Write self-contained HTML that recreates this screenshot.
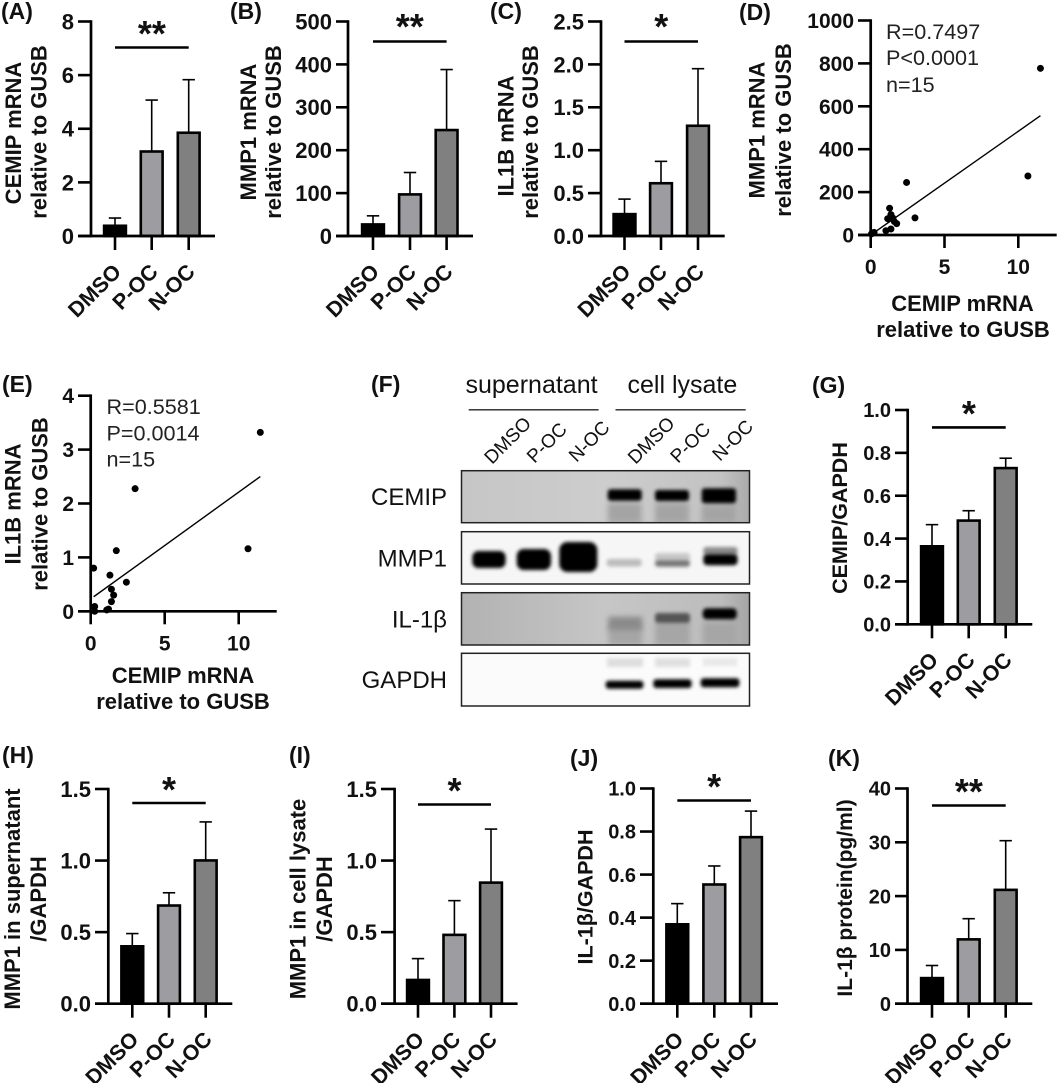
<!DOCTYPE html>
<html lang="en">
<head>
<meta charset="utf-8">
<title>CEMIP, MMP1 and IL-1β expression figure</title>
<style>
html,body{margin:0;padding:0;background:#fff}
svg{display:block}
text{font-family:"Liberation Sans",sans-serif;fill:#111}
.pl{font-weight:700;font-size:23px}
.yt{font-weight:700;font-size:22px;text-anchor:middle}
.r{font-size:21.6px;fill:#222}
.lane{font-size:19px;fill:#111}
.prot{font-size:24px;text-anchor:end;fill:#111}
</style>
</head>
<body>
<svg id="fig" xmlns="http://www.w3.org/2000/svg" width="1059" height="1083" viewBox="0 0 1059 1083">
<defs>
<filter id="bl1" x="-30%" y="-80%" width="160%" height="260%"><feGaussianBlur stdDeviation="1.8"/></filter>
<filter id="bl3" x="-30%" y="-60%" width="160%" height="220%"><feGaussianBlur stdDeviation="3"/></filter>
<linearGradient id="g1" x1="0" x2="1" y1="0" y2="0"><stop offset="0" stop-color="#c6c6c6"/><stop offset=".5" stop-color="#cdcdcd"/><stop offset=".9" stop-color="#c2c2c2"/><stop offset="1" stop-color="#aaa"/></linearGradient>
<linearGradient id="g3" x1="0" x2="1" y1="0" y2="0"><stop offset="0" stop-color="#b2b2b2"/><stop offset=".5" stop-color="#c6c6c6"/><stop offset=".9" stop-color="#bcbcbc"/><stop offset="1" stop-color="#a4a4a4"/></linearGradient>
<clipPath id="c1"><rect x="461.5" y="470.5" width="288" height="52"/></clipPath>
<clipPath id="c2"><rect x="461.5" y="531.5" width="288" height="52.5"/></clipPath>
<clipPath id="c3"><rect x="461.5" y="592.5" width="288" height="52.5"/></clipPath>
<clipPath id="c4"><rect x="461.5" y="653.5" width="288" height="52.5"/></clipPath>
</defs>

<!-- Panel letters -->
<text class="pl" x="1" y="19">(A)</text>
<text class="pl" x="230" y="19">(B)</text>
<text class="pl" x="490" y="19">(C)</text>
<text class="pl" x="739" y="20">(D)</text>
<text class="pl" x="2" y="392">(E)</text>
<text class="pl" x="371" y="392">(F)</text>
<text class="pl" x="812" y="393">(G)</text>
<text class="pl" x="2" y="763">(H)</text>
<text class="pl" x="289" y="763">(I)</text>
<text class="pl" x="570" y="766">(J)</text>
<text class="pl" x="828" y="766">(K)</text>

<!-- Axis titles -->
<text class="yt" transform="translate(21,133) rotate(-90)">CEMIP mRNA</text>
<text class="yt" transform="translate(46.5,132) rotate(-90)">relative to GUSB</text>
<text class="yt" transform="translate(256,132) rotate(-90)">MMP1 mRNA</text>
<text class="yt" transform="translate(281,132) rotate(-90)">relative to GUSB</text>
<text class="yt" transform="translate(513.5,136) rotate(-90)">IL1B mRNA</text>
<text class="yt" transform="translate(538,132) rotate(-90)">relative to GUSB</text>
<text class="yt" transform="translate(764.5,130) rotate(-90)">MMP1 mRNA</text>
<text class="yt" transform="translate(791,130) rotate(-90)">relative to GUSB</text>
<text class="yt" x="962.5" y="311">CEMIP mRNA</text>
<text class="yt" x="963" y="337">relative to GUSB</text>
<text class="yt" transform="translate(20.5,504) rotate(-90)">IL1B mRNA</text>
<text class="yt" transform="translate(47.5,504) rotate(-90)">relative to GUSB</text>
<text class="yt" x="183" y="683">CEMIP mRNA</text>
<text class="yt" x="183" y="709">relative to GUSB</text>
<text class="yt" style="font-size:21.5px" transform="translate(847,518) rotate(-90)">CEMIP/GAPDH</text>
<text class="yt" transform="translate(20,899) rotate(-90)">MMP1 in supernatant</text>
<text class="yt" transform="translate(46,899) rotate(-90)">/GAPDH</text>
<text class="yt" transform="translate(305.5,899) rotate(-90)">MMP1 in cell lysate</text>
<text class="yt" transform="translate(332,899) rotate(-90)">/GAPDH</text>
<text class="yt" style="font-size:21.5px" transform="translate(592.5,897) rotate(-90)">IL-1β/GAPDH</text>
<text class="yt" style="font-size:21px" transform="translate(852,898) rotate(-90)">IL-1β protein(pg/ml)</text>

<!-- Correlation statistics -->
<text class="r" x="886" y="39">R=0.7497</text>
<text class="r" x="886" y="65">P&lt;0.0001</text>
<text class="r" x="886" y="92">n=15</text>
<text class="r" x="106.5" y="414">R=0.5581</text>
<text class="r" x="106.5" y="440.5">P=0.0014</text>
<text class="r" x="106.5" y="466.5">n=15</text>

<!-- Panel F western blot -->
<g>
<text x="465.5" y="393" style="font-size:25px">supernatant</text>
<text x="627.5" y="393" style="font-size:25px">cell lysate</text>
<line x1="468.7" x2="598.6" y1="409.8" y2="409.8" stroke="#222" stroke-width="1.3"/>
<line x1="615.5" x2="745.7" y1="409.8" y2="409.8" stroke="#222" stroke-width="1.3"/>
<text class="lane" transform="translate(492,465) rotate(-45)">DMSO</text>
<text class="lane" transform="translate(534.5,464) rotate(-45)">P-OC</text>
<text class="lane" transform="translate(576.5,463) rotate(-45)">N-OC</text>
<text class="lane" transform="translate(635.5,465) rotate(-45)">DMSO</text>
<text class="lane" transform="translate(678,464) rotate(-45)">P-OC</text>
<text class="lane" transform="translate(720,462) rotate(-45)">N-OC</text>
<text class="prot" x="447" y="505">CEMIP</text>
<text class="prot" x="447" y="566.5">MMP1</text>
<text class="prot" x="447" y="627.5">IL-1β</text>
<text class="prot" x="447" y="688">GAPDH</text>

<g clip-path="url(#c1)">
<rect x="461" y="470" width="289" height="53" fill="url(#g1)"/>
<rect x="607.7" y="503" width="34" height="20" fill="#a4a4a4" filter="url(#bl3)"/>
<rect x="655" y="503" width="34" height="20" fill="#a4a4a4" filter="url(#bl3)"/>
<rect x="701.7" y="505" width="34.3" height="18" fill="#a4a4a4" filter="url(#bl3)"/>
<rect x="607.7" y="489.3" width="34" height="11.4" rx="3" fill="#000" filter="url(#bl1)"/>
<rect x="655" y="490" width="34" height="11" rx="3" fill="#000" filter="url(#bl1)"/>
<rect x="701.7" y="488.3" width="34.3" height="15" rx="3" fill="#000" filter="url(#bl1)"/>
</g>
<g clip-path="url(#c2)">
<rect x="461" y="531" width="289" height="53" fill="#f6f6f6"/>
<rect x="472.3" y="551" width="33.3" height="17" rx="6" fill="#000" filter="url(#bl1)"/>
<rect x="516.7" y="549" width="34.3" height="21" rx="7" fill="#000" filter="url(#bl1)"/>
<rect x="559.3" y="542" width="38" height="30" rx="8" fill="#000" filter="url(#bl1)"/>
<rect x="606.7" y="559" width="35" height="7.5" rx="3" fill="#bcbcbc" filter="url(#bl1)"/>
<rect x="655" y="553" width="35" height="8" rx="3" fill="#c8c8c8" filter="url(#bl1)"/>
<rect x="655" y="560" width="35" height="6.7" rx="3" fill="#777" filter="url(#bl1)"/>
<rect x="703.3" y="547" width="34.3" height="8" rx="3" fill="#8c8c8c" filter="url(#bl1)"/>
<rect x="703.3" y="554" width="34.3" height="11.3" rx="4" fill="#000" filter="url(#bl1)"/>
</g>
<g clip-path="url(#c3)">
<rect x="461" y="592" width="289" height="53" fill="url(#g3)"/>
<rect x="608.3" y="625" width="34" height="20" fill="#a6a6a6" filter="url(#bl3)"/>
<rect x="655" y="622" width="35" height="23" fill="#a6a6a6" filter="url(#bl3)"/>
<rect x="702.7" y="622" width="34" height="23" fill="#a6a6a6" filter="url(#bl3)"/>
<rect x="608.3" y="616.7" width="34" height="13.3" fill="#8a8a8a" filter="url(#bl3)"/>
<rect x="655" y="613" width="35" height="10" rx="3" fill="#555" filter="url(#bl1)"/>
<rect x="702.7" y="608.3" width="34" height="11" rx="4" fill="#000" filter="url(#bl1)"/>
</g>
<g clip-path="url(#c4)">
<rect x="461" y="653" width="289" height="53" fill="#fbfbfb"/>
<rect x="607" y="658" width="36" height="9" fill="#dedede" filter="url(#bl1)"/>
<rect x="655" y="658" width="35" height="9" fill="#e0e0e0" filter="url(#bl1)"/>
<rect x="703" y="658" width="34" height="8" fill="#e8e8e8" filter="url(#bl1)"/>
<rect x="605.7" y="680.7" width="37.7" height="8" rx="3" fill="#000" filter="url(#bl1)"/>
<rect x="653.3" y="679.3" width="38.3" height="8.7" rx="3" fill="#000" filter="url(#bl1)"/>
<rect x="700.7" y="678.3" width="38.7" height="9" rx="3" fill="#000" filter="url(#bl1)"/>
</g>
<rect x="461.5" y="470.7" width="288" height="52" fill="none" stroke="#222" stroke-width="1.5"/>
<rect x="461.5" y="531.7" width="288" height="52.3" fill="none" stroke="#222" stroke-width="1.5"/>
<rect x="461.5" y="592.7" width="288" height="52.3" fill="none" stroke="#222" stroke-width="1.5"/>
<rect x="461.5" y="653.3" width="288" height="52.7" fill="none" stroke="#222" stroke-width="1.5"/>
</g>

<g id="charts"></g>
</svg>

<script>
// ---- shared categories ----
const categories = ['DMSO', 'P-OC', 'N-OC'];
const barFills = ['#000000', '#9d9da1', '#808080'];

// ---- panel A ----
const aTicks = [0, 2, 4, 6, 8];
const aTickLabels = ['0', '2', '4', '6', '8'];
const aMeans = [0.43, 3.2, 3.9];
const aErrors = [0.67, 5.07, 5.83];
// ---- panel B ----
const bTicks = [0, 100, 200, 300, 400, 500];
const bTickLabels = ['0', '100', '200', '300', '400', '500'];
const bMeans = [30, 100, 250];
const bErrors = [47, 148, 388];
// ---- panel C ----
const cTicks = [0, 0.5, 1, 1.5, 2, 2.5];
const cTickLabels = ['0.0', '0.5', '1.0', '1.5', '2.0', '2.5'];
const cMeans = [0.27, 0.63, 1.3];
const cErrors = [0.43, 0.87, 1.95];
// ---- panel G ----
const gTicks = [0, 0.2, 0.4, 0.6, 0.8, 1];
const gTickLabels = ['0.0', '0.2', '0.4', '0.6', '0.8', '1.0'];
const gMeans = [0.37, 0.49, 0.735];
const gErrors = [0.465, 0.53, 0.775];
// ---- panel H ----
const hTicks = [0, 0.5, 1, 1.5];
const hTickLabels = ['0.0', '0.5', '1.0', '1.5'];
const hMeans = [0.41, 0.695, 1.01];
const hErrors = [0.49, 0.775, 1.27];
// ---- panel I ----
const iTicks = [0, 0.5, 1, 1.5];
const iTickLabels = ['0.0', '0.5', '1.0', '1.5'];
const iMeans = [0.175, 0.49, 0.855];
const iErrors = [0.315, 0.72, 1.22];
// ---- panel J ----
const jTicks = [0, 0.2, 0.4, 0.6, 0.8, 1];
const jTickLabels = ['0.0', '0.2', '0.4', '0.6', '0.8', '1.0'];
const jMeans = [0.375, 0.56, 0.78];
const jErrors = [0.465, 0.64, 0.895];
// ---- panel K ----
const kTicks = [0, 10, 20, 30, 40];
const kTickLabels = ['0', '10', '20', '30', '40'];
const kMeans = [5, 12.2, 21.4];
const kErrors = [7.1, 15.8, 30.3];

// ---- panel D scatter ----
const dXTicks = [0, 5, 10];
const dYTicks = [0, 200, 400, 600, 800, 1000];
const dXValues = [11.5, 10.65, 2.43, 3.0, 1.28, 1.37, 1.15, 1.5, 1.6, 1.76, 1.37, 1.03, 0.23, 0.05, 0.1];
const dYValues = [777, 275, 245, 80, 125, 95, 76, 79, 63, 53, 28, 20, 12, 5, 8];
const dFitX = [0.1, 11.5];
const dFitY = [5, 556];

// ---- panel E scatter ----
const eXTicks = [0, 5, 10];
const eYTicks = [0, 1, 2, 3, 4];
const eXValues = [11.46, 10.63, 3.0, 1.73, 0.2, 1.3, 2.41, 1.4, 1.55, 1.4, 1.08, 1.2, 0.27, 0.18, 0.27];
const eYValues = [3.32, 1.16, 2.275, 1.125, 0.8, 0.67, 0.54, 0.41, 0.3, 0.18, 0.025, 0.04, 0.09, 0.04, 0];
const eFitX = [0.2, 11.46];
const eFitY = [0.27, 2.5];

const NS = 'http://www.w3.org/2000/svg';
const root = document.getElementById('charts');

function mk(tag, attrs, parent, text) {
  const el = document.createElementNS(NS, tag);
  for (const k in attrs) el.setAttribute(k, attrs[k]);
  if (text !== undefined) el.textContent = text;
  parent.appendChild(el);
  return el;
}
function linear(d0, d1, r0, r1) {
  return v => r0 + (v - d0) * (r1 - r0) / (d1 - d0);
}
function line(parent, x1, y1, x2, y2, w, name) {
  const el = mk('line', {x1: x1, y1: y1, x2: x2, y2: y2, stroke: '#000', 'stroke-width': w}, parent);
  
  
  return el;
}

function barChart(id, L, ticks, tickLabels, means, errors) {
  const g = mk('g', {}, root);
  
  
  const y = linear(ticks[0], ticks[ticks.length - 1], L.y0, L.top);
  const fs = L.fs || 22;

  // bars and error bars
  categories.forEach((cat, i) => {
    const cx = L.cats[i];
    const top = y(means[i]) + 1.3;
    const et = y(errors[i]);
    line(g, cx, top, cx, et, 1.6, 'error-bar-' + id + '-' + cat.toLowerCase());
    line(g, cx - 6.2, et, cx + 6.2, et, 1.6, 'error-cap-' + id + '-' + cat.toLowerCase());
    const bar = mk('rect', {x: cx - 10.9, y: top, width: 21.8, height: L.y0 - top, fill: barFills[i], stroke: '#000', 'stroke-width': 2.6}, g);
    
    
  });

  // axes
  line(g, L.ax, L.top - 1.3, L.ax, L.y0 + 1.3, 2.7, 'y-axis-' + id);
  line(g, L.xs, L.y0, L.xe, L.y0, 2.7, 'x-axis-' + id);

  // y ticks
  ticks.forEach((t, i) => {
    line(g, L.xs, y(t), L.ax, y(t), 2.6, 'y-tick-' + id);
    const lab = mk('text', {x: L.xs - 4, y: y(t) + fs * 0.36, 'text-anchor': 'end', 'font-size': fs, 'font-weight': 700}, g, tickLabels[i]);
    
    
  });

  // x ticks and category labels
  categories.forEach((cat, i) => {
    const cx = L.cats[i];
    line(g, cx, L.y0, cx, L.y0 + 14, 2.6, 'x-tick-' + id);
    const lab = mk('text', {transform: 'translate(' + (cx + 7.5) + ',' + (L.y0 + 37) + ') rotate(-45)', 'text-anchor': 'end', 'font-size': 21.5, 'font-weight': 700}, g, cat);
    
    
  });

  // significance
  const sig = line(g, L.cats[0], L.sigY, L.cats[2], L.sigY, 2.6, 'significance-bar-' + id);
  sig.setAttribute('stroke-linecap', 'butt');
  const star = mk('text', {x: (L.cats[0] + L.cats[2]) / 2, y: L.starY + 18, 'text-anchor': 'middle', 'font-size': 36, 'font-weight': 700}, g, L.stars);
  
  
}

function scatter(id, L, xTicks, yTicks, xs, ys, fitX, fitY) {
  const g = mk('g', {}, root);
  
  
  const x = linear(xTicks[0], xTicks[xTicks.length - 1], L.ax, L.x10);
  const y = linear(yTicks[0], yTicks[yTicks.length - 1], L.y0, L.top);

  xs.forEach((v, i) => {
    const c = mk('circle', {cx: x(v), cy: y(ys[i]), r: 3.5, fill: '#000'}, g);
    
    
  });
  line(g, x(fitX[0]), y(fitY[0]), x(fitX[1]), y(fitY[1]), 1.4, 'fit-line-' + id);

  line(g, L.ax, L.top - 1.3, L.ax, L.y0 + 1.3, 2.7, 'y-axis-' + id);
  line(g, L.xs, L.y0, L.xe, L.y0, 2.7, 'x-axis-' + id);

  yTicks.forEach(t => {
    line(g, L.xs, y(t), L.ax, y(t), 2.6, 'y-tick-' + id);
    const lab = mk('text', {x: L.xs - 4, y: y(t) + 7.5, 'text-anchor': 'end', 'font-size': 21, 'font-weight': 700}, g, String(t));
    
    
  });
  xTicks.forEach(t => {
    line(g, x(t), L.y0, x(t), L.y0 + 13, 2.6, 'x-tick-' + id);
    const lab = mk('text', {x: x(t), y: L.y0 + 39, 'text-anchor': 'middle', 'font-size': 21, 'font-weight': 700}, g, String(t));
    
    
  });
}

barChart('a', {ax: 91, xs: 78, xe: 215, top: 21.5, y0: 236, cats: [115, 151.7, 188.7], sigY: 47.5, starY: 28, stars: '**'}, aTicks, aTickLabels, aMeans, aErrors);
barChart('b', {ax: 348, xs: 336, xe: 473, top: 21.5, y0: 236, cats: [373, 410, 446.6], sigY: 41.5, starY: 21, stars: '**'}, bTicks, bTickLabels, bMeans, bErrors);
barChart('c', {ax: 601, xs: 588, xe: 724.7, top: 21.5, y0: 236, cats: [624.5, 661, 698], sigY: 41.5, starY: 21, stars: '*'}, cTicks, cTickLabels, cMeans, cErrors);
barChart('g', {ax: 907.7, xs: 895, xe: 1032.3, top: 410, y0: 624.3, cats: [932, 968.7, 1005.7], sigY: 427.4, starY: 408, stars: '*', fs: 20}, gTicks, gTickLabels, gMeans, gErrors);
barChart('h', {ax: 108.3, xs: 95, xe: 232.3, top: 789, y0: 1003.7, cats: [132.3, 169, 205.7], sigY: 803, starY: 784, stars: '*'}, hTicks, hTickLabels, hMeans, hErrors);
barChart('i', {ax: 394.6, xs: 381, xe: 517.6, top: 789, y0: 1003.7, cats: [418, 454.4, 491], sigY: 804.5, starY: 785, stars: '*'}, iTicks, iTickLabels, iMeans, iErrors);
barChart('j', {ax: 653.3, xs: 640, xe: 778, top: 788.5, y0: 1003.7, cats: [677.3, 714.3, 751], sigY: 800.5, starY: 781, stars: '*', fs: 20}, jTicks, jTickLabels, jMeans, jErrors);
barChart('k', {ax: 907.5, xs: 895, xe: 1032.3, top: 788.5, y0: 1003.7, cats: [932, 968.7, 1005.7], sigY: 805.5, starY: 786, stars: '**', fs: 20}, kTicks, kTickLabels, kMeans, kErrors);

scatter('d', {ax: 870.7, x10: 1018.3, xs: 858, xe: 1056.7, top: 20.5, y0: 235}, dXTicks, dYTicks, dXValues, dYValues, dFitX, dFitY);
scatter('e', {ax: 90.7, x10: 238.7, xs: 78, xe: 276.7, top: 395.7, y0: 611.3}, eXTicks, eYTicks, eXValues, eYValues, eFitX, eFitY);
</script>
</body>
</html>
